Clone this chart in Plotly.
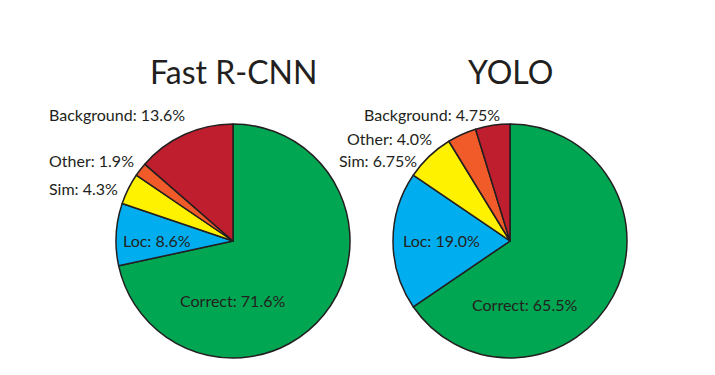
import plotly.graph_objects as go

W, H = 715, 375

categories = ["Correct", "Loc", "Sim", "Other", "Background"]
colors = ["#00A651", "#00AEEF", "#FFF200", "#F15A29", "#BE1E2D"]

frcnn_title = "Fast R-CNN"
frcnn_values = [71.6, 8.6, 4.3, 1.9, 13.6]

yolo_title = "YOLO"
yolo_values = [65.5, 19.0, 6.75, 4.0, 4.75]


def fmt(v):
    s = f"{v:.2f}"
    return s[:-1] if s.endswith("0") else s


def px(x):
    return x / W


def py(y):
    return 1 - y / H


fig = go.Figure()

pies = [
    (frcnn_title, frcnn_values, (116, 350), (124, 358)),
    (yolo_title, yolo_values, (393, 627), (124, 358)),
]
for title, vals, (x0, x1), (y0, y1) in pies:
    fig.add_trace(go.Pie(
        labels=categories, values=vals, sort=False, direction="clockwise",
        rotation=0, textinfo="none", hoverinfo="label+percent",
        marker=dict(colors=colors, line=dict(color="#231F20", width=1.5)),
        domain=dict(x=[px(x0), px(x1)], y=[py(y1), py(y0)]),
        showlegend=False,
    ))

# label positions (pixel coords) and anchors
label_pos = {
    frcnn_title: {
        "Correct": (232, 300, "center"),
        "Loc": (121, 240, "left"),
        "Sim": (47, 188, "left"),
        "Other": (47, 160, "left"),
        "Background": (47, 115, "left"),
    },
    yolo_title: {
        "Correct": (524, 304, "center"),
        "Loc": (441, 240, "center"),
        "Sim": (378, 160, "center"),
        "Other": (389, 138, "center"),
        "Background": (432, 115, "center"),
    },
}
title_pos = {frcnn_title: (233, 72), yolo_title: (510, 72)}

ann = []
for title, vals, _, _ in pies:
    tx, ty = title_pos[title]
    ann.append(dict(x=px(tx), y=py(ty), xref="paper", yref="paper", text=title,
                    showarrow=False, xanchor="center", yanchor="middle",
                    font=dict(size=32, color="#231F20", family="Lato, sans-serif")))
    for cat, v in zip(categories, vals):
        lx, ly, anc = label_pos[title][cat]
        ann.append(dict(x=px(lx), y=py(ly), xref="paper", yref="paper",
                        text=f"{cat}: {fmt(v)}%", showarrow=False,
                        xanchor=anc, yanchor="middle",
                        font=dict(size=16, color="#231F20", family="Lato, sans-serif")))

fig.update_layout(
    width=W, height=H, margin=dict(l=0, r=0, t=0, b=0),
    paper_bgcolor="white", plot_bgcolor="white",
    annotations=ann,
)

fig.write_html("out.html", config={"displayModeBar": False},
               post_script="document.body.style.margin='0';")
